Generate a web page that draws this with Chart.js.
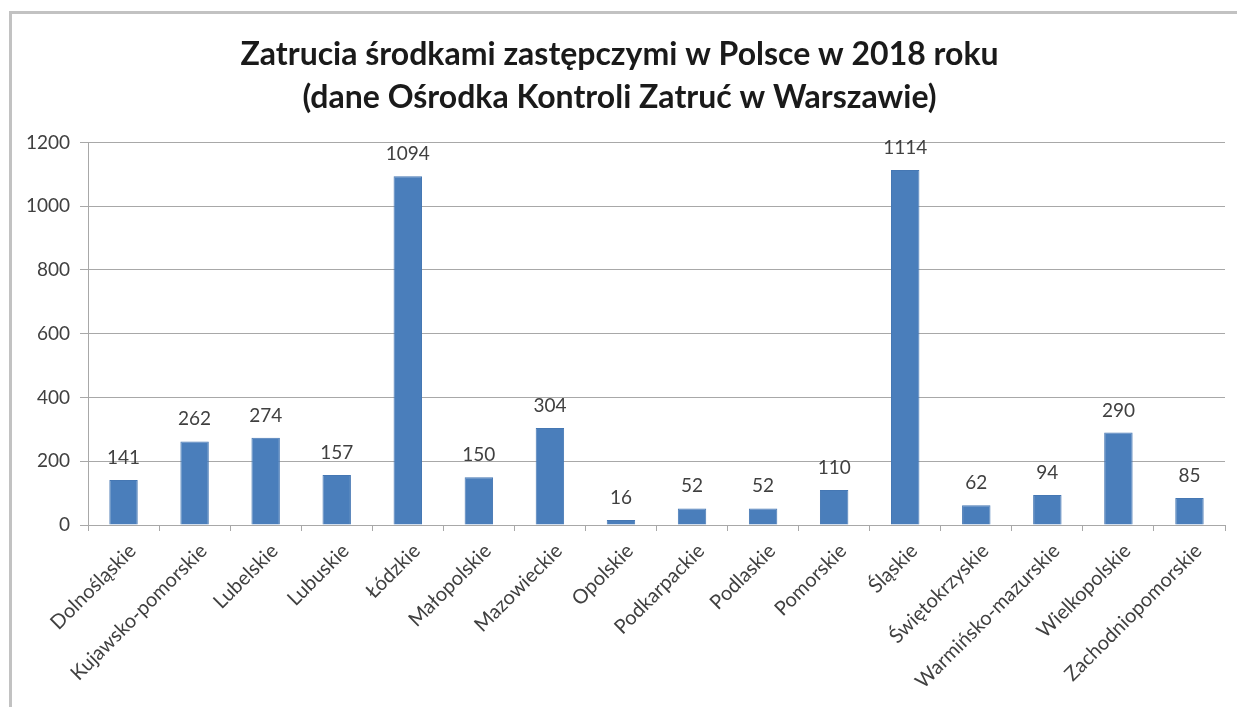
<!DOCTYPE html>
<html>
<head>
<meta charset="utf-8">
<script src="https://cdn.jsdelivr.net/npm/chart.js@4/dist/chart.umd.min.js"></script>
<style>
    html, body { margin: 0; padding: 0; background: #fff; overflow: hidden; }
    #wrap { position: relative; width: 1237px; height: 707px; }
    #frame {
        position: absolute; left: 9px; top: 11px; width: 1300px; height: 800px;
        border-left: 3px solid #c2c2c2; border-top: 3px solid #c2c2c2;
        pointer-events: none;
    }
</style>
</head>
<body>
<div id="wrap">
    <canvas id="bar-chart" width="1237" height="707"></canvas>
    <div id="frame"></div>
</div>
<script>
const regions = [
    "Dolnośląskie", "Kujawsko-pomorskie", "Lubelskie", "Lubuskie", "Łódzkie",
    "Małopolskie", "Mazowieckie", "Opolskie", "Podkarpackie", "Podlaskie",
    "Pomorskie", "Śląskie", "Świętokrzyskie", "Warmińsko-mazurskie",
    "Wielkopolskie", "Zachodniopomorskie"
];
const poisonings = [141, 262, 274, 157, 1094, 150, 304, 16, 52, 52, 110, 1114, 62, 94, 290, 85];
const yTicks = [0, 200, 400, 600, 800, 1000, 1200];
const titleLines = [
    "Zatrucia środkami zastępczymi w Polsce w 2018 roku",
    "(dane Ośrodka Kontroli Zatruć w Warszawie)"
];

const gridColor = '#a8a8a8';
const textColor = '#404040';

// value labels over each bar
const valueLabels = {
    id: 'valueLabels',
    afterDatasetsDraw(chart) {
        const ctx = chart.ctx;
        const meta = chart.getDatasetMeta(0);
        ctx.save();
        ctx.font = '19px Lato';
        ctx.fillStyle = textColor;
        ctx.textAlign = 'center';
        ctx.textBaseline = 'alphabetic';
        meta.data.forEach((bar, i) => {
            ctx.fillText(String(poisonings[i]), bar.x, bar.y - 16);
        });
        ctx.restore();
    }
};

const ctx = document.getElementById('bar-chart').getContext('2d');
new Chart(ctx, {
    type: 'bar',
    data: {
        labels: regions,
        datasets: [{
            data: poisonings,
            backgroundColor: '#4a7ebb',
            borderColor: '#4577b3',
            borderWidth: 1,
            categoryPercentage: 1,
            barPercentage: 0.4
        }]
    },
    options: {
        responsive: false,
        animation: false,
        layout: { padding: { left: 14, right: 12, top: 14, bottom: 0 } },
        plugins: {
            legend: { display: false },
            tooltip: { enabled: false },
            title: {
                display: true,
                text: titleLines,
                color: '#1a1a1a',
                font: { family: 'Lato', size: 32, weight: 'bold', lineHeight: 1.32 },
                padding: { top: 20, bottom: 24 }
            }
        },
        scales: {
            y: {
                min: 0,
                max: 1200,
                afterBuildTicks(scale) {
                    scale.ticks = yTicks.map(v => ({ value: v }));
                },
                afterFit(scale) { scale.width = 74; },
                grid: { color: gridColor, tickLength: 8, lineWidth: 1 },
                border: { color: gridColor },
                ticks: {
                    color: textColor,
                    padding: 10,
                    font: { family: 'Lato', size: 19 },
                    callback: v => String(v)
                }
            },
            x: {
                afterFit(scale) { scale.height = 182; },
                grid: { drawOnChartArea: false, color: gridColor, tickLength: 6, offset: true },
                border: { color: gridColor },
                ticks: {
                    color: textColor,
                    minRotation: 45,
                    maxRotation: 45,
                    autoSkip: false,
                    padding: 8,
                    labelOffset: 9,
                    font: { family: 'Lato', size: 20 }
                }
            }
        }
    },
    plugins: [valueLabels]
});
</script>
</body>
</html>
